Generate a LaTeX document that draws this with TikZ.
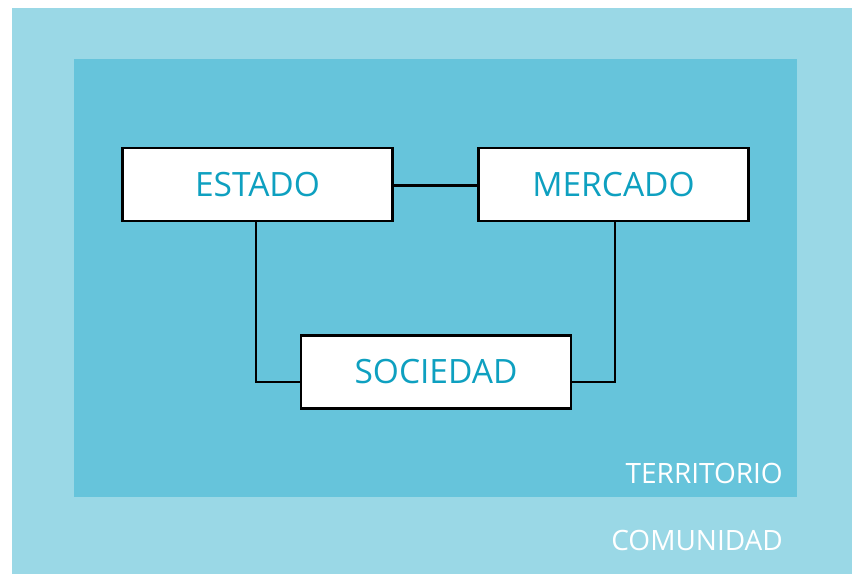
\documentclass[tikz,border=0pt]{standalone}
\usepackage{fontspec}
\setmainfont{Open Sans}
\definecolor{outerblue}{RGB}{154,216,230}
\definecolor{innerblue}{RGB}{102,196,219}
\definecolor{textteal}{RGB}{14,160,192}
\begin{document}
\begin{tikzpicture}[x=1pt,y=-1pt,
  entity/.style={draw=black,line width=2.6pt,fill=white,rectangle,minimum width=270pt,minimum height=73pt,inner sep=0pt,font=\fontsize{33.5}{38}\selectfont,text=textteal},
  link/.style={draw=black,line width=2.3pt},
  areaname/.style={font=\fontsize{28}{32}\selectfont,text=white,inner sep=0pt}]
\useasboundingbox (0,0) rectangle (852,574);
\fill[white] (0,0) rectangle (852,574);
\fill[outerblue] (12,8) rectangle (852,574);
\fill[innerblue] (74,59) rectangle (797,497);
\node[entity] (estado) at (257.5,184.5) {ESTADO};
\node[entity] (mercado) at (613.5,184.5) {MERCADO};
\node[entity] (sociedad) at (436,372) {SOCIEDAD};
\draw[link] ([yshift=-1pt]estado.east) -- ([yshift=-1pt]mercado.west);
\draw[link] ([xshift=-1.5pt]estado.south) |- ([yshift=-10pt]sociedad.west);
\draw[link] ([xshift=1.5pt]mercado.south) |- ([yshift=-10pt]sociedad.east);
\node[areaname,anchor=base east] (territorio) at (783,483) {TERRITORIO};
\node[areaname,anchor=base east] (comunidad) at (783,550) {COMUNIDAD};
\end{tikzpicture}
\end{document}
